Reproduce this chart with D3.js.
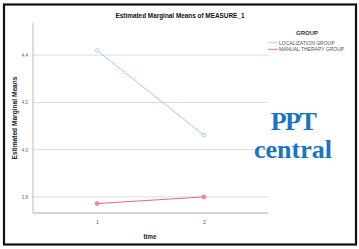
<!DOCTYPE html>
<html><head><meta charset="utf-8">
<script src="https://cdn.jsdelivr.net/npm/d3@7"></script>
<style>body{margin:0;background:#fff;}svg{display:block;}</style>
</head><body>
<script>
const times = ["1", "2"];
const groups = ["LOCALIZATION GROUP", "MANUAL THERAPY GROUP"];
const localization = [4.42, 4.061];
const manualTherapy = [3.772, 3.80];
const yTicks = [3.8, 4.0, 4.2, 4.4];
const colors = ["#a4c6f0", "#e96785"];

const W = 359, H = 249;
const svg = d3.select("body").append("svg").attr("width", W).attr("height", H);

svg.append("rect").attr("x", 4).attr("y", 4.5).attr("width", 352).attr("height", 240)
  .attr("fill", "#fff").attr("stroke", "#111").attr("stroke-width", 2.2);

const x0 = 33, x1 = 268, yTop = 23, yBot = 213;
const x = d3.scalePoint().domain(times).range([x0, x1]).padding(0.6);
const y = d3.scaleLinear().domain([3.732, 4.536]).range([yBot, yTop]);

// gridlines
svg.append("g").selectAll("line").data(yTicks).join("line")
  .attr("x1", x0).attr("x2", x1).attr("y1", d => y(d)).attr("y2", d => y(d))
  .attr("stroke", "#dcdcdc").attr("stroke-width", 1);

// axes
const yAxis = d3.axisLeft(y).tickValues(yTicks).tickFormat(d3.format(".1f")).tickSize(0).tickPadding(5);
const gy = svg.append("g").attr("transform", `translate(${x0},0)`).call(yAxis);
gy.select(".domain").attr("stroke", "#bbb").attr("d", `M0,${yTop}V${yBot}`);
gy.selectAll("text").attr("font-family", "Liberation Sans, Arial").attr("font-size", 4.5).attr("fill", "#666");

const xAxis = d3.axisBottom(x).tickSize(0).tickPadding(7);
const gx = svg.append("g").attr("transform", `translate(0,${yBot})`).call(xAxis);
gx.select(".domain").attr("stroke", "#aaa").attr("d", `M${x0},0H${x1}`);
gx.selectAll("text").attr("font-family", "Liberation Sans, Arial").attr("font-size", 5.5).attr("fill", "#666");

// lines
const series = [localization, manualTherapy];
const line = d3.line().x((d, i) => x(times[i])).y(d => y(d));
series.forEach((s, k) => {
  svg.append("path").attr("d", line(s)).attr("fill", "none").attr("stroke", colors[k]).attr("stroke-width", 1);
  svg.append("g").selectAll("circle").data(s).join("circle")
    .attr("cx", (d, i) => x(times[i])).attr("cy", d => y(d)).attr("r", 1.9)
    .attr("fill", d3.color(colors[k]).brighter(0.8)).attr("stroke", colors[k]).attr("stroke-width", 0.8);
});

// titles
svg.append("text").attr("x", 180).attr("y", 18).attr("text-anchor", "middle")
  .attr("font-family", "Liberation Sans, Arial").attr("font-size", 6.4).attr("font-weight", "bold").attr("fill", "#111")
  .text("Estimated Marginal Means of MEASURE_1");
svg.append("text").attr("transform", "translate(17,118) rotate(-90)").attr("text-anchor", "middle")
  .attr("font-family", "Liberation Sans, Arial").attr("font-size", 6.6).attr("font-weight", "bold").attr("fill", "#222")
  .text("Estimated Marginal Means");
svg.append("text").attr("x", 150).attr("y", 239).attr("text-anchor", "middle")
  .attr("font-family", "Liberation Sans, Arial").attr("font-size", 6.4).attr("font-weight", "bold").attr("fill", "#222")
  .text("time");

// legend
svg.append("text").attr("x", 307).attr("y", 35).attr("text-anchor", "middle")
  .attr("font-family", "Liberation Sans, Arial").attr("font-size", 6).attr("font-weight", "bold").attr("fill", "#333")
  .text("GROUP");
const lg = svg.append("g").selectAll("g").data(groups).join("g")
  .attr("transform", (d, i) => `translate(268,${42.7 + i * 6.6})`);
lg.append("line").attr("x1", 0).attr("x2", 10).attr("stroke", (d, i) => colors[i]).attr("stroke-width", 0.9);
lg.append("text").attr("x", 11).attr("y", 1.8).attr("font-family", "Liberation Sans, Arial").attr("font-size", 5)
  .attr("fill", "#555").text(d => d);

// watermark
svg.append("text").attr("x", 293).attr("y", 130).attr("text-anchor", "middle")
  .attr("font-family", "Liberation Serif, serif").attr("font-weight", "bold").attr("font-size", 26)
  .attr("fill", "#1b74c1").attr("letter-spacing", -1.5).text("PPT");
svg.append("text").attr("x", 293).attr("y", 158).attr("text-anchor", "middle")
  .attr("font-family", "Liberation Serif, serif").attr("font-weight", "bold").attr("font-size", 26)
  .attr("fill", "#1b74c1").text("central");
</script>
</body></html>
